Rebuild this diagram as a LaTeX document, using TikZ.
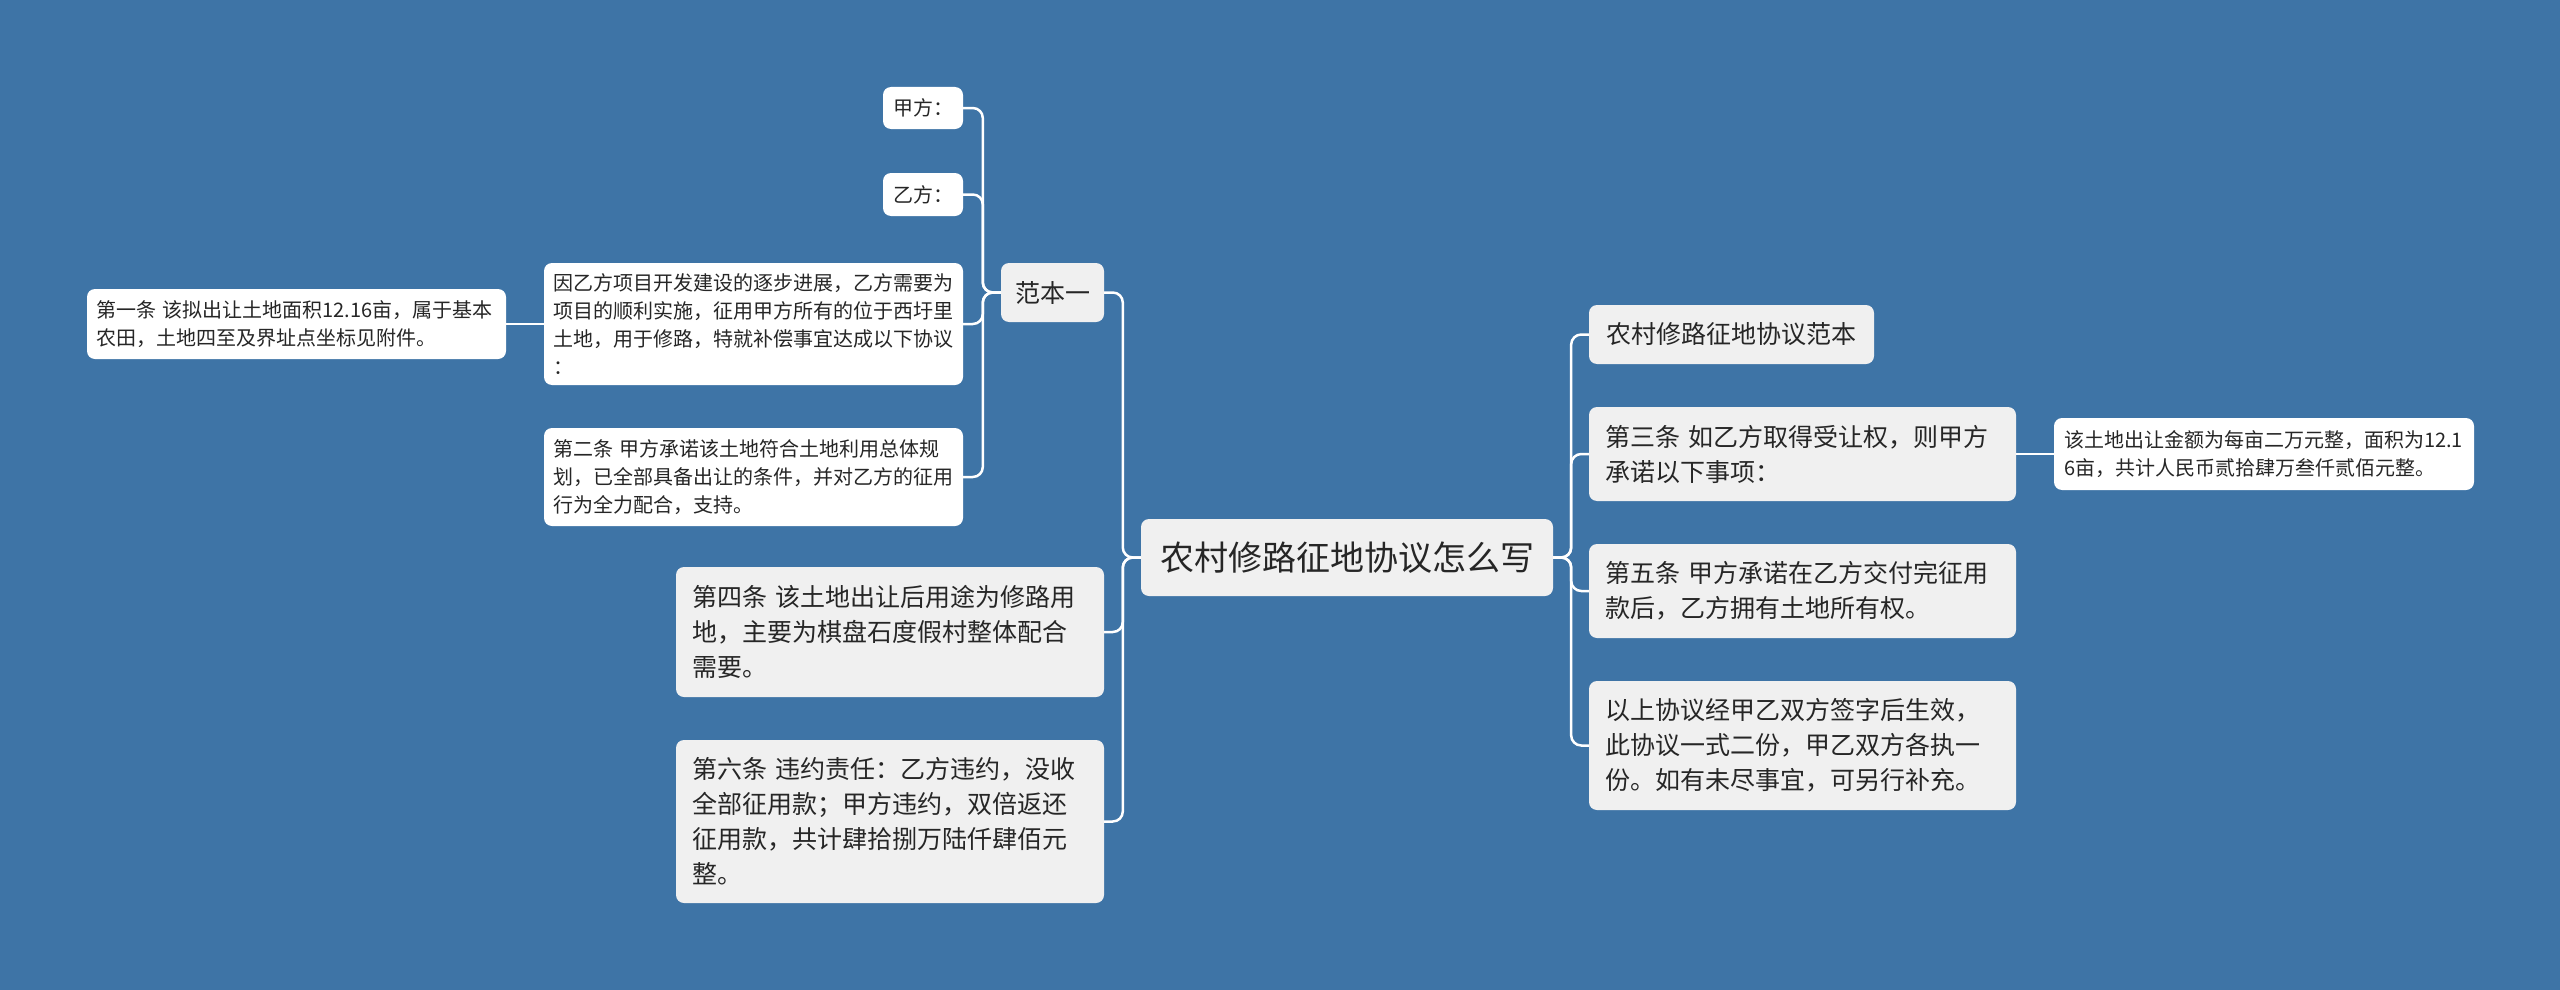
\documentclass[tikz,border=0pt]{standalone}
\usepackage{fontspec}
\setmainfont{Noto Sans CJK SC}
\definecolor{bg}{RGB}{62,116,166}
\definecolor{txt}{RGB}{38,38,38}
\definecolor{grayfill}{RGB}{240,240,240}
\begin{document}
\begin{tikzpicture}[x=1pt,y=-1pt,
  box/.style={rounded corners=8pt, text=txt, inner ysep=0pt},
  rootbox/.style={box, fill=grayfill, font=\fontsize{34}{44}\selectfont, align=center, inner xsep=0pt},
  lvone/.style={box, fill=grayfill, font=\fontsize{25}{35}\selectfont, align=left, inner xsep=16pt, text width=396pt},
  lvonesingle/.style={box, fill=grayfill, font=\fontsize{25}{35}\selectfont, align=center, inner xsep=0pt},
  lvtwo/.style={box, fill=white, font=\fontsize{20}{28}\selectfont, align=left, inner xsep=9pt, text width=401pt},
  lvtwosingle/.style={box, fill=white, font=\fontsize{20}{28}\selectfont, align=center, inner xsep=0pt},
  link/.style={draw=white, line width=2.5pt, rounded corners=10pt}]
\useasboundingbox (0,0) rectangle (2560,990);
\fill[bg] (0,0) rectangle (2560,990);

% root
\node[rootbox, minimum width=412pt, minimum height=77pt] (root) at (1347,557.5) {农村修路征地协议怎么写};

% left side
\node[lvonesingle, minimum width=103pt, minimum height=59pt] (fb1) at (1052.5,292.5) {范本一};
\node[lvtwosingle, minimum width=80pt, minimum height=42pt] (jia) at (923,108) {甲方：};
\node[lvtwosingle, minimum width=80pt, minimum height=43pt] (yi) at (923,194.5) {乙方：};
\node[lvtwo, minimum height=122pt] (yin) at (753.5,324) {因乙方项目开发建设的逐步进展，乙方需要为\\项目的顺利实施，征用甲方所有的位于西圩里\\土地，用于修路，特就补偿事宜达成以下协议\\：};
\node[lvtwo, minimum height=70pt] (d1) at (296.5,324) {第一条 该拟出让土地面积12.16亩，属于基本\\农田，土地四至及界址点坐标见附件。};
\node[lvtwo, minimum height=98pt] (d2) at (753.5,477) {第二条 甲方承诺该土地符合土地利用总体规\\划，已全部具备出让的条件，并对乙方的征用\\行为全力配合，支持。};
\node[lvone, minimum height=130pt] (d4) at (890,632) {第四条 该土地出让后用途为修路用\\地，主要为棋盘石度假村整体配合\\需要。};
\node[lvone, minimum height=163pt] (d6) at (890,821.5) {第六条 违约责任：乙方违约，没收\\全部征用款；甲方违约，双倍返还\\征用款，共计肆拾捌万陆仟肆佰元\\整。};

% right side
\node[lvonesingle, minimum width=285pt, minimum height=59pt] (fbr) at (1731.5,334.5) {农村修路征地协议范本};
\node[lvone, text width=395pt, minimum height=94pt] (d3) at (1802.5,454) {第三条 如乙方取得受让权，则甲方\\承诺以下事项：};
\node[lvtwo, inner xsep=10pt, text width=400pt, minimum height=72pt] (jine) at (2264,454) {该土地出让金额为每亩二万元整，面积为12.1\\6亩，共计人民币贰拾肆万叁仟贰佰元整。};
\node[lvone, text width=395pt, minimum height=94pt] (d5) at (1802.5,591) {第五条 甲方承诺在乙方交付完征用\\款后，乙方拥有土地所有权。};
\node[lvone, text width=395pt, minimum height=129pt] (ys) at (1802.5,745.5) {以上协议经甲乙双方签字后生效，\\此协议一式二份，甲乙双方各执一\\份。如有未尽事宜，可另行补充。};

% connectors
\draw[link] (root.west) -- ++(-18,0) |- (fb1.east);
\draw[link] (root.west) -- ++(-18,0) |- (d4.east);
\draw[link] (root.west) -- ++(-18,0) |- (d6.east);
\draw[link] (fb1.west) -- ++(-18,0) |- (jia.east);
\draw[link] (fb1.west) -- ++(-18,0) |- (yi.east);
\draw[link] (fb1.west) -- ++(-18,0) |- (yin.east);
\draw[link] (fb1.west) -- ++(-18,0) |- (d2.east);
\draw[link] (yin.west) -- (d1.east);
\draw[link] (root.east) -- ++(18,0) |- (fbr.west);
\draw[link] (root.east) -- ++(18,0) |- (d3.west);
\draw[link] (root.east) -- ++(18,0) |- (d5.west);
\draw[link] (root.east) -- ++(18,0) |- (ys.west);
\draw[link] (d3.east) -- (jine.west);
\end{tikzpicture}
\end{document}
